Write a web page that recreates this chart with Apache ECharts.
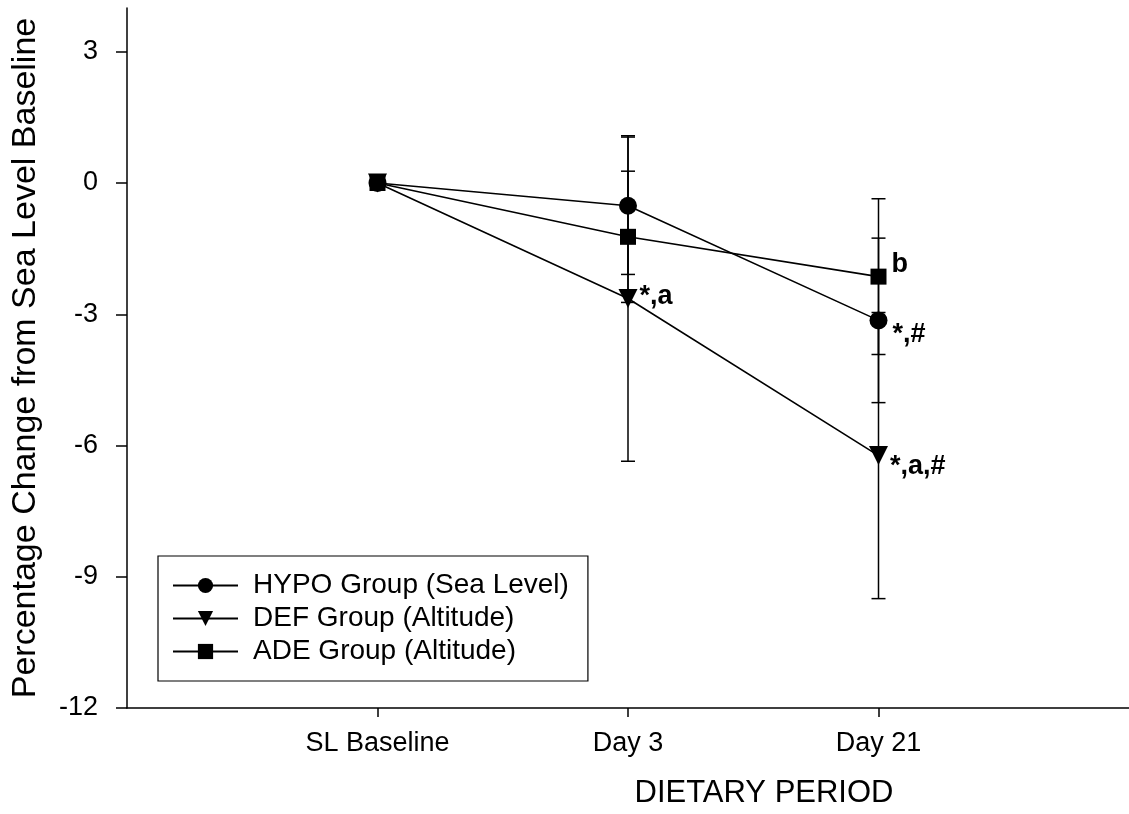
<!DOCTYPE html>
<html>
<head>
<meta charset="utf-8">
<script src="https://cdn.jsdelivr.net/npm/echarts@6/dist/echarts.min.js"></script>
<style>
html,body{margin:0;padding:0;background:#fff;}
#chart{width:1129px;height:814px;}
</style>
</head>
<body>
<div id="chart"></div>
<script>
// ---- data ----
const categories = ['SL Baseline', 'Day 3', 'Day 21'];
const yTicks = [-12, -9, -6, -3, 0, 3];
const seriesNames = ['HYPO Group (Sea Level)', 'DEF Group (Altitude)', 'ADE Group (Altitude)'];
const hypoMean = [0, -0.52, -3.14];
const hypoSD   = [0, 1.57, 1.88];
const defMean  = [0, -2.64, -6.23];
const defSD    = [0, 3.72, 3.27];
const adeMean  = [0, -1.23, -2.14];
const adeSD    = [0, 1.50, 1.78];
const hypoNotes = ['', '', '*,#'];
const defNotes  = ['', '*,a', '*,a,#'];
const adeNotes  = ['', '', 'b'];

const FONT = '"Liberation Sans", Arial, sans-serif';
const xPos = categories.map((c, i) => i + 1);

function lineData(means, notes, labelOpts) {
  return means.map((v, i) => {
    const d = { value: [xPos[i], v] };
    if (notes[i]) {
      d.label = Object.assign({
        show: true, formatter: notes[i], position: 'right',
        color: '#000', fontFamily: FONT, fontWeight: 'bold', fontSize: 27
      }, labelOpts[i] || {});
    }
    return d;
  });
}
function errData(means, sds) {
  const out = [];
  means.forEach((v, i) => { if (sds[i] > 0) out.push([xPos[i], v - sds[i], v + sds[i]]); });
  return out;
}
function errSeries(means, sds) {
  return {
    type: 'custom',
    data: errData(means, sds),
    silent: true,
    z: 1,
    renderItem: function (params, api) {
      const x = api.value(0);
      const lo = api.coord([x, api.value(1)]);
      const hi = api.coord([x, api.value(2)]);
      const hw = 7;
      const st = { stroke: '#000', lineWidth: 1.5 };
      return {
        type: 'group',
        children: [
          { type: 'line', shape: { x1: lo[0], y1: lo[1], x2: hi[0], y2: hi[1] }, style: st },
          { type: 'line', shape: { x1: lo[0] - hw, y1: lo[1], x2: lo[0] + hw, y2: lo[1] }, style: st },
          { type: 'line', shape: { x1: hi[0] - hw, y1: hi[1], x2: hi[0] + hw, y2: hi[1] }, style: st }
        ]
      };
    }
  };
}

const chart = echarts.init(document.getElementById('chart'));
const lineCommon = {
  type: 'line',
  z: 3,
  lineStyle: { color: '#000', width: 1.6 },
  itemStyle: { color: '#000' },
  emphasis: { disabled: true },
  animation: false
};

chart.setOption({
  animation: false,
  backgroundColor: '#fff',
  grid: { left: 127, top: 8, width: 1008, height: 704, containLabel: false },
  legend: {
    left: 158, top: 556, orient: 'vertical',
    data: seriesNames,
    itemWidth: 65, itemHeight: 19, itemGap: 0,
    padding: [13, 19, 13, 14],
    borderColor: '#000', borderWidth: 1.2, borderRadius: 0,
    backgroundColor: '#fff',
    textStyle: { fontFamily: FONT, fontSize: 28, color: '#000', lineHeight: 33, padding: [0, 0, 0, 10] }
  },
  xAxis: {
    type: 'value', min: 0, max: 4, interval: 1,
    name: 'DIETARY PERIOD', nameLocation: 'middle', nameGap: 70,
    nameTextStyle: { fontFamily: FONT, fontSize: 31, color: '#000', padding: [0, 0, 0, 272] },
    axisLine: { show: true, onZero: false, lineStyle: { color: '#000', width: 1.5 } },
    axisTick: { show: true, inside: false, length: 9, customValues: xPos, lineStyle: { color: '#000', width: 1.5 } },
    axisLabel: {
      customValues: xPos, margin: 22,
      fontFamily: FONT, fontSize: 27, color: '#000',
      formatter: v => categories[Math.round(v) - 1] || ''
    },
    splitLine: { show: false }
  },
  yAxis: {
    type: 'value', min: -12, max: 4, interval: 3,
    name: 'Percentage Change from Sea Level Baseline', nameLocation: 'middle', nameGap: 84,
    nameTextStyle: { fontFamily: FONT, fontSize: 34, color: '#000' },
    axisLine: { show: true, onZero: false, lineStyle: { color: '#000', width: 1.5 } },
    axisTick: { show: true, inside: false, length: 11, customValues: yTicks, lineStyle: { color: '#000', width: 1.5 } },
    axisLabel: { customValues: yTicks, margin: 29, fontFamily: FONT, fontSize: 27, color: '#000' },
    splitLine: { show: false }
  },
  series: [
    errSeries(hypoMean, hypoSD),
    errSeries(defMean, defSD),
    errSeries(adeMean, adeSD),
    Object.assign({}, lineCommon, {
      name: seriesNames[0], symbol: 'circle', symbolSize: 18,
      data: lineData(hypoMean, hypoNotes, [null, null, { offset: [0, 14] }])
    }),
    Object.assign({}, lineCommon, {
      name: seriesNames[1], symbol: 'triangle', symbolRotate: 180, symbolSize: 19,
      data: lineData(defMean, defNotes, [null, { offset: [-3, -2] }, { offset: [-3, 11] }])
    }),
    Object.assign({}, lineCommon, {
      name: seriesNames[2], symbol: 'rect', symbolSize: 16,
      data: lineData(adeMean, adeNotes, [null, null, { offset: [0, -12] }])
    })
  ]
});
</script>
</body>
</html>
